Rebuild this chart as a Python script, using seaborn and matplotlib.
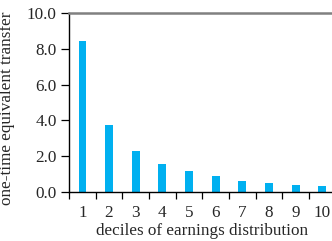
import numpy as np
import pandas as pd
import seaborn as sns
import matplotlib.pyplot as plt

# Data
deciles = ['1', '2', '3', '4', '5', '6', '7', '8', '9', '10']
transfer = [8.43, 3.76, 2.29, 1.56, 1.17, 0.89, 0.63, 0.50, 0.39, 0.34]
y_ticks = [0.0, 2.0, 4.0, 6.0, 8.0, 10.0]

df = pd.DataFrame({'decile': deciles, 'transfer': transfer})

sns.set_style('white')
plt.rcParams['font.family'] = ['Liberation Serif', 'DejaVu Serif']

fig = plt.figure(figsize=(3.32, 2.41), dpi=100)
ax = fig.add_axes([0.208, 0.203, 0.803, 0.743])

# Bars (no white edge)
sns.barplot(data=df, x='decile', y='transfer', color='#00B0F0', saturation=1,
            width=0.29, linewidth=0, ax=ax)

# Axis labels
ax.set_xlabel('deciles of earnings distribution', fontsize=12.3, labelpad=2)
ax.set_ylabel('one-time equivalent transfer', fontsize=12.3)
ax.yaxis.set_label_coords(-0.203, 0.47)

# Y axis
ax.set_ylim(0, 10)
ax.set_yticks(y_ticks)
ax.set_yticklabels([f'{v:.1f}' for v in y_ticks])
ax.set_xlim(-0.5, len(deciles) - 0.5)

# Category boundaries as minor ticks, labels centred without tick marks
ax.set_xticks(np.arange(-0.5, len(deciles), 1.0), minor=True)
ax.tick_params(axis='x', which='major', length=0, labelsize=12.3, pad=9)
ax.tick_params(axis='x', which='minor', length=5, width=0.9, color='black',
               direction='out', bottom=True)
ax.tick_params(axis='y', length=6, width=0.9, color='black', direction='out',
               labelsize=12.3, pad=3, left=True)

# Spines
ax.spines['right'].set_visible(False)
ax.spines['left'].set_color('black')
ax.spines['left'].set_linewidth(1.0)
ax.spines['bottom'].set_color('black')
ax.spines['bottom'].set_linewidth(1.0)
ax.spines['top'].set_color('#808080')
ax.spines['top'].set_linewidth(1.8)

plt.savefig('out.png', dpi=100)
